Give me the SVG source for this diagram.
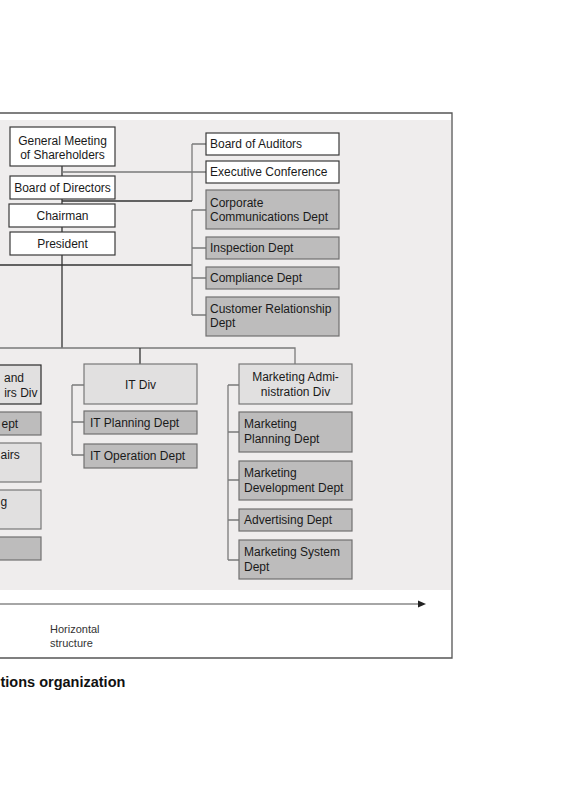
<svg xmlns="http://www.w3.org/2000/svg" width="570" height="800" viewBox="0 0 570 800">
<style>
text{font-family:"Liberation Sans",Arial,sans-serif;font-size:12px;fill:#1a1a1a}
.c{text-anchor:middle}
.e{text-anchor:end}
.w{fill:#fff;stroke:#3a3a3a;stroke-width:1.2}
.d{fill:#e1e0e0;stroke:#777;stroke-width:1.2}
.dk{fill:#e1e0e0;stroke:#2a2a2a;stroke-width:1.2}
.g{fill:#bdbcbc;stroke:#707070;stroke-width:1.2}
.ln{fill:none;stroke:#7a7a7a;stroke-width:1.3}
.lk{fill:none;stroke:#333;stroke-width:1.3}
</style>
<rect x="0" y="0" width="570" height="800" fill="#fff"/>
<rect x="0" y="120" width="451" height="470" fill="#efeded"/>
<path d="M0 113H452V658H0" fill="none" stroke="#555" stroke-width="1.3"/>
<g id="connectors">
<path class="lk" d="M62 166V348"/>
<path class="ln" d="M62 172H206M192 144H206M192 144V201"/>
<path class="lk" d="M62 201H192"/>
<path class="lk" d="M0 265H192"/>
<path class="ln" d="M192 210V315M192 210H206M192 248H206M192 278H206M192 315H206"/>
<path class="ln" d="M0 348H295V364"/>
<path class="lk" d="M140 348V364"/>
<path class="ln" d="M72 385V455M72 385H84M72 422H84M72 455H84"/>
<path class="ln" d="M228 385V560M228 385H239M228 432H239M228 480H239M228 520H239M228 560H239" stroke="#666"/>
<path d="M0 604H419" stroke="#888" stroke-width="1.6"/>
<polygon points="418,600.5 426,604 418,607.5" fill="#222"/>
</g>
<g id="n-gm"><rect class="w" x="10" y="127" width="105" height="39"/><text class="c" x="62.5" y="145">General Meeting</text><text class="c" x="62.5" y="159">of Shareholders</text></g>
<g id="n-bod"><rect class="w" x="10" y="176" width="105" height="23"/><text class="c" x="62.5" y="192">Board of Directors</text></g>
<g id="n-chair"><rect class="w" x="9" y="204" width="106" height="23"/><text class="c" x="62.5" y="220">Chairman</text></g>
<g id="n-pres"><rect class="w" x="10" y="232" width="105" height="23"/><text class="c" x="62.5" y="248">President</text></g>
<g id="n-aud"><rect class="w" x="206" y="133" width="133" height="22"/><text x="210" y="148">Board of Auditors</text></g>
<g id="n-exec"><rect class="w" x="206" y="161" width="133" height="22"/><text x="210" y="176">Executive Conference</text></g>
<g id="n-corp"><rect class="g" x="206" y="190" width="133" height="39"/><text x="210" y="207">Corporate</text><text x="210" y="221">Communications Dept</text></g>
<g id="n-insp"><rect class="g" x="206" y="237" width="133" height="22"/><text x="210" y="252">Inspection Dept</text></g>
<g id="n-comp"><rect class="g" x="206" y="267" width="133" height="22"/><text x="210" y="282">Compliance Dept</text></g>
<g id="n-cust"><rect class="g" x="206" y="297" width="133" height="39"/><text x="210" y="313">Customer Relationship</text><text x="210" y="327">Dept</text></g>
<g id="n-left1"><rect class="dk" x="-60" y="365" width="101" height="39"/><text class="e" x="24" y="382">and</text><text class="e" x="37.5" y="397">irs Div</text></g>
<g id="n-left2"><rect class="g" x="-60" y="412" width="101" height="23"/><text x="1.5" y="428">ept</text></g>
<g id="n-left3"><rect class="d" x="-60" y="443" width="101" height="39"/><text x="0.5" y="459">airs</text></g>
<g id="n-left4"><rect class="d" x="-60" y="490" width="101" height="39"/><text x="0.5" y="506">g</text></g>
<g id="n-left5"><rect class="g" x="-60" y="537" width="101" height="23"/></g>
<g id="n-itdiv"><rect class="d" x="84" y="364" width="113" height="40"/><text class="c" x="140.5" y="389">IT Div</text></g>
<g id="n-itplan"><rect class="g" x="84" y="411" width="113" height="23"/><text x="90" y="427">IT Planning Dept</text></g>
<g id="n-itop"><rect class="g" x="84" y="444" width="113" height="24"/><text x="90" y="460">IT Operation Dept</text></g>
<g id="n-mkadm"><rect class="d" x="239" y="364" width="113" height="40"/><text class="c" x="295.5" y="381">Marketing Admi-</text><text class="c" x="295.5" y="396">nistration Div</text></g>
<g id="n-mkplan"><rect class="g" x="239" y="412" width="113" height="40"/><text x="244" y="428">Marketing</text><text x="244" y="443">Planning Dept</text></g>
<g id="n-mkdev"><rect class="g" x="239" y="461" width="113" height="39"/><text x="244" y="477">Marketing</text><text x="244" y="492">Development Dept</text></g>
<g id="n-adv"><rect class="g" x="239" y="509" width="113" height="22"/><text x="244" y="524">Advertising Dept</text></g>
<g id="n-mksys"><rect class="g" x="239" y="540" width="113" height="39"/><text x="244" y="556">Marketing System</text><text x="244" y="571">Dept</text></g>
<text x="50" y="633" style="font-size:11px;fill:#333">Horizontal</text>
<text x="50" y="647" style="font-size:11px;fill:#333">structure</text>
<text x="0.5" y="687" style="font-size:14.5px;font-weight:bold;fill:#111">tions organization</text>
</svg>
